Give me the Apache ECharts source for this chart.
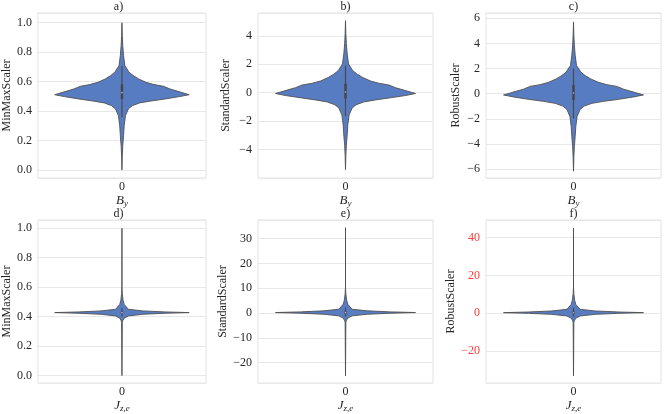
<!DOCTYPE html>
<html><head><meta charset="utf-8">
<script src="https://cdn.jsdelivr.net/npm/echarts@6/dist/echarts.min.js"></script>
<style>html,body{margin:0;padding:0;background:#fff}#c{width:664px;height:414px}</style>
</head><body><div id="c"></div>
<script>
// ---- data ----
const panelTitles = ['a)', 'b)', 'c)', 'd)', 'e)', 'f)'];
const yNames = ['MinMaxScaler', 'StandardScaler', 'RobustScaler', 'MinMaxScaler', 'StandardScaler', 'RobustScaler'];
const categories = ['0'];

// Top row: violin outline (y values, relative half widths)
const topWidths = [0, 0.005, 0.012, 0.024, 0.043, 0.105, 0.167, 0.248, 0.357, 0.476, 0.619, 0.714, 0.881, 1.0, 0.857, 0.643, 0.429, 0.262, 0.152, 0.095, 0.052, 0.033, 0.024, 0.012, 0.005, 0];
const aY = [1.0, 0.914, 0.845, 0.777, 0.709, 0.664, 0.641, 0.618, 0.595, 0.580, 0.568, 0.550, 0.527, 0.511, 0.498, 0.482, 0.468, 0.455, 0.436, 0.414, 0.368, 0.300, 0.232, 0.164, 0.095, 0.0];
const bY = [5.06, 4.16, 3.44, 2.73, 2.01, 1.54, 1.30, 1.06, 0.82, 0.66, 0.54, 0.35, 0.11, -0.06, -0.20, -0.36, -0.51, -0.65, -0.85, -1.08, -1.56, -2.27, -2.98, -3.69, -4.41, -5.41];
const cY = [5.71, 4.69, 3.87, 3.06, 2.25, 1.72, 1.44, 1.17, 0.90, 0.72, 0.58, 0.36, 0.09, -0.10, -0.26, -0.45, -0.61, -0.77, -0.99, -1.25, -1.80, -2.61, -3.41, -4.22, -5.04, -6.17];

// Bottom row
const bottomWidths = [0, 0, 0.005, 0.017, 0.033, 0.095, 0.31, 0.643, 1.0, 0.643, 0.31, 0.095, 0.033, 0.014, 0.005, 0];
const dY = [1.0, 0.60, 0.555, 0.51, 0.483, 0.45, 0.439, 0.432, 0.4275, 0.423, 0.416, 0.405, 0.39, 0.375, 0.36, 0.0];
const eY = [34.4, 10.5, 7.83, 5.15, 3.53, 1.56, 0.91, 0.49, 0.22, -0.05, -0.47, -1.12, -2.02, -2.91, -3.81, -25.3];
const fY = [45.0, 13.8, 10.3, 6.78, 4.67, 2.10, 1.24, 0.69, 0.34, -0.01, -0.55, -1.41, -2.58, -3.75, -4.92, -33.0];

// inner box: [whisker low, q1, median, q3, whisker high]
const aBox = [0.357, 0.482, 0.525, 0.582, 0.705];
const bBox = [-1.65, -0.40, 0.05, 0.62, 1.90];
const cBox = [-1.96, -0.50, 0.05, 0.68, 2.0];
const dBox = [0.40, 0.42, 0.427, 0.435, 0.46];
const eBox = [-1.42, -0.23, 0.2, 0.67, 2.16];
const fBox = [-1.8, -0.24, 0.3, 0.93, 2.9];

// axis extents
const yMins = [-0.055, -6.0, -6.71, -0.051, -28.2, -36.8];
const yMaxs = [1.066, 5.6, 6.42, 1.056, 37.5, 49.2];
const ySplits = [5, 5, 6, 5, 6, 4];
const yDecimals = [1, 0, 0, 1, 0, 0];

// ---- layout / styles ----
const FONT = 'Liberation Serif';
const TXT = '#262626';
const gridLefts = [31, 258, 486, 31, 258, 486];
const gridTops = [13, 13, 13, 220, 220, 220];
const GW = 175, GH = 165;
const yNameGaps = [23, 26, 24, 23, 29, 29];
const labelColors = [TXT, TXT, TXT, TXT, TXT, '#ff3b3b'];
const xNames = ['{i|B}{s|y}', '{i|B}{s|y}', '{i|B}{s|y}', '{i|J}{s|z,e}', '{i|J}{s|z,e}', '{i|J}{s|z,e}'];

const outlines = [aY, bY, cY, dY, eY, fY];
const widthsFor = [topWidths, topWidths, topWidths, bottomWidths, bottomWidths, bottomWidths];
const boxes = [aBox, bBox, cBox, dBox, eBox, fBox];

const grids = [], xAxes = [], yAxes = [], series = [], graphics = [];
for (let i = 0; i < 6; i++) {
  grids.push({left: gridLefts[i], top: gridTops[i], width: GW, height: GH,
    show: true, borderColor: '#e3e3e3', borderWidth: 1, backgroundColor: '#fff'});
  xAxes.push({type: 'category', gridIndex: i, data: categories, boundaryGap: true,
    axisLine: {show: false}, axisTick: {show: false}, splitLine: {show: false},
    axisLabel: {fontFamily: FONT, fontSize: 12, color: TXT, margin: 3},
    name: xNames[i], nameLocation: 'middle', nameGap: 10,
    nameTextStyle: {verticalAlign: 'top', rich: {
      i: {fontFamily: FONT, fontStyle: 'italic', fontSize: 13, color: TXT, verticalAlign: 'middle', lineHeight: 15},
      s: {fontFamily: FONT, fontStyle: 'italic', fontSize: 9, color: TXT, verticalAlign: 'bottom', lineHeight: 9}
    }}});
  const dec = yDecimals[i];
  yAxes.push({type: 'value', gridIndex: i, min: yMins[i], max: yMaxs[i], splitNumber: ySplits[i],
    axisLine: {show: false}, axisTick: {show: false},
    splitLine: {show: true, lineStyle: {color: '#e8e8e8', width: 1}},
    axisLabel: {showMinLabel: false, showMaxLabel: false, fontFamily: FONT, fontSize: 12,
      color: labelColors[i], margin: 6,
      formatter: v => v.toFixed(dec).replace('-', '\u2212')},
    name: yNames[i], nameLocation: 'middle', nameRotate: 90, nameGap: yNameGaps[i],
    nameTextStyle: {fontFamily: FONT, fontSize: 12, color: TXT}});
  const ys = outlines[i], ws = widthsFor[i], bx = boxes[i];
  series.push({type: 'custom', xAxisIndex: i, yAxisIndex: i, data: [[0, bx[2]]],
    silent: true,
    renderItem: function (params, api) {
      const bw = api.size([1, 0])[0];
      const half = 0.4 * bw;
      const pts = [];
      for (let k = 0; k < ys.length; k++) {
        const p = api.coord([0, ys[k]]);
        pts.push([p[0] + ws[k] * half, p[1]]);
      }
      for (let k = ys.length - 1; k >= 0; k--) {
        const p = api.coord([0, ys[k]]);
        pts.push([p[0] - ws[k] * half, p[1]]);
      }
      const wl = api.coord([0, bx[0]]), q1 = api.coord([0, bx[1]]), md = api.coord([0, bx[2]]),
            q3 = api.coord([0, bx[3]]), wh = api.coord([0, bx[4]]);
      return {type: 'group', children: [
        {type: 'polygon', shape: {points: pts},
          style: {fill: '#587cc2', stroke: '#4f4f4f', lineWidth: 0.9, lineJoin: 'round'}},
        {type: 'line', shape: {x1: wl[0], y1: wl[1], x2: wh[0], y2: wh[1]},
          style: {stroke: '#4a4a4a', lineWidth: 1.2}},
        {type: 'line', shape: {x1: q1[0], y1: q1[1], x2: q3[0], y2: q3[1]},
          style: {stroke: '#454545', lineWidth: 2.4}},
        {type: 'circle', shape: {cx: md[0], cy: md[1], r: 0.8},
          style: {fill: '#bbbbbb'}}
      ]};
    }});
  graphics.push({type: 'text', x: gridLefts[i] + GW / 2, y: gridTops[i] - 12,
    style: {text: panelTitles[i], textAlign: 'center', fontFamily: FONT, fontSize: 12, fill: TXT}});
}

const chart = echarts.init(document.getElementById('c'), null, {renderer: 'canvas'});
chart.setOption({animation: false, backgroundColor: '#fff',
  grid: grids, xAxis: xAxes, yAxis: yAxes, series: series, graphic: graphics});
</script></body></html>
